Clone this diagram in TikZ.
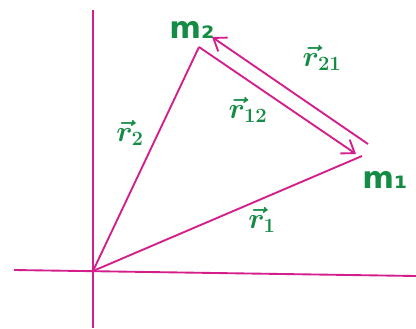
\documentclass[tikz,border=0pt]{standalone}
\usepackage{fontspec}
\setmainfont{DejaVu Sans}
\usetikzlibrary{arrows.meta}
\definecolor{mag}{RGB}{212,30,140}
\definecolor{grn}{RGB}{20,140,70}
\begin{document}
\begin{tikzpicture}[x=0.03cm,y=-0.03cm,
  ln/.style={mag,line width=1.6pt},
  arr/.style={ln,-{Straight Barb[length=3.5mm,width=5mm,line width=1.6pt]}},
  lab/.style={grn,font=\fontsize{26}{28}\selectfont\bfseries\boldmath,inner sep=0pt}]
\useasboundingbox (0,0) rectangle (416,328);
\fill[white] (0,0) rectangle (416,328);
\coordinate (O) at (93,271);
\coordinate (m1v) at (362,156);
\coordinate (m2v) at (199,47);
\coordinate (yt) at (93,10);
\coordinate (yb) at (93,328);
\coordinate (xl) at (14,270);
\coordinate (xr) at (416,276);
\coordinate (a21s) at (368,144);
\coordinate (a21e) at (212,37);
\draw[ln] (yt) -- (yb);
\draw[ln] (xl) -- (xr);
\draw[ln] (O) -- (m1v);
\draw[ln] (O) -- (m2v);
\draw[arr] (m2v) -- (356,154);
\draw[arr] (a21s) -- (a21e);
\node[lab] (m2) at (192,30) {m₂};
\node[lab] (m1) at (385,180) {m₁};
\node[lab] (r21) at (322,58) {$\vec{r}_{21}$};
\node[lab] (r12) at (248,110) {$\vec{r}_{12}$};
\node[lab] (r2) at (130,133) {$\vec{r}_{2}$};
\node[lab] (r1) at (262,220) {$\vec{r}_{1}$};
\end{tikzpicture}
\end{document}
